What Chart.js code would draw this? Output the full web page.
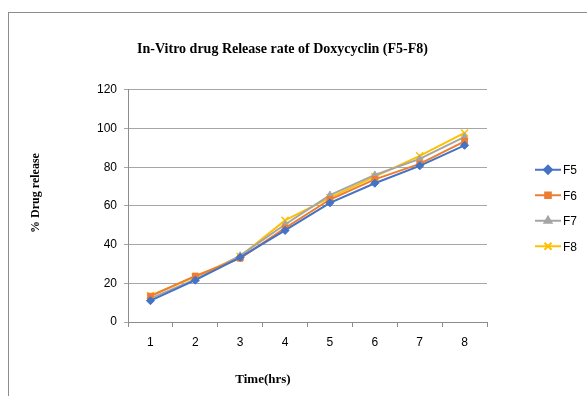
<!DOCTYPE html>
<html>
<head>
<meta charset="utf-8">
<script src="https://cdn.jsdelivr.net/npm/chart.js@4"></script>
<style>
  html, body { margin: 0; padding: 0; background: #fff; overflow: hidden; }
  #wrap { position: relative; width: 587px; height: 396px; }
  #frame { position: absolute; left: 8px; top: 12px; width: 620px; height: 420px; border: 1px solid #8c8c8c; box-sizing: border-box; }
  canvas { position: absolute; left: 0; top: 0; }
</style>
</head>
<body>
<div id="wrap">
  <div id="frame"></div>
  <canvas id="releaseChart" width="587" height="396"></canvas>
</div>
<script>
// --- 데이터 ---
const timeLabels = ['1', '2', '3', '4', '5', '6', '7', '8'];
const seriesNames = ['F5', 'F6', 'F7', 'F8'];
const f5Values = [11, 21.6, 33.4, 47.3, 61.6, 71.7, 80.7, 91.3];
const f6Values = [13.4, 23.8, 32.9, 48.5, 63.3, 73.7, 81.7, 93.4];
const f7Values = [12.2, 22, 34.3, 50.4, 65.6, 76, 84.3, 95.7];
const f8Values = [13.7, 23.3, 33.9, 52.5, 64.3, 75.1, 85.9, 97.7];
const yTicks = [0, 20, 40, 60, 80, 100, 120];
const xAxisTitle = 'Time(hrs)';
const yAxisTitle = '% Drug release';

const seriesValues = [f5Values, f6Values, f7Values, f8Values];
const seriesColors = ['#4472C4', '#ED7D31', '#A5A5A5', '#FFC000'];
const seriesMarkers = ['rectRot', 'rect', 'triangle', 'crossRot'];
const seriesRadius = [4, 4, 4, 5];

const serifBold = 'bold 13px "Liberation Serif", "Times New Roman", serif';

// 범례 + 축 제목 (엑셀 배치에 맞춤)
const sideLegend = {
    id: 'sideLegend',
    afterLayout(chart) {
        // 제목을 엑셀처럼 약간 오른쪽으로
        chart.titleBlock.left += 18;
    },
    afterDraw(chart) {
        const ctx = chart.ctx;
        chart.data.datasets.forEach((ds, i) => {
            const y = 208 + (i - 1.5) * 25.5;
            ctx.save();
            ctx.strokeStyle = ds.borderColor;
            ctx.lineWidth = 2;
            ctx.beginPath();
            ctx.moveTo(535, y);
            ctx.lineTo(561, y);
            ctx.stroke();
            ctx.fillStyle = ds.borderColor;
            Chart.helpers.drawPoint(ctx, {
                pointStyle: ds.pointStyle,
                radius: ds.pointRadius,
                borderWidth: ds.pointStyle === 'crossRot' ? 1.5 : 1,
                rotation: 0
            }, 548, y);
            ctx.restore();
            ctx.save();
            ctx.fillStyle = '#000';
            ctx.font = '12px "Liberation Sans", Arial, sans-serif';
            ctx.textBaseline = 'middle';
            ctx.fillText(seriesNames[i], 563, y + 1);
            ctx.restore();
        });

        // 축 제목
        ctx.save();
        ctx.fillStyle = '#000';
        ctx.font = serifBold;
        ctx.textAlign = 'center';
        ctx.textBaseline = 'middle';
        ctx.fillText(xAxisTitle, 263, 380);
        ctx.translate(36, 193);
        ctx.rotate(-Math.PI / 2);
        ctx.font = 'bold 12px "Liberation Serif", "Times New Roman", serif';
        ctx.fillText(yAxisTitle, 0, 0);
        ctx.restore();
    }
};

const ctx = document.getElementById('releaseChart').getContext('2d');
new Chart(ctx, {
    type: 'line',
    data: {
        labels: timeLabels,
        datasets: seriesNames.map((name, i) => ({
            label: name,
            data: seriesValues[i],
            borderColor: seriesColors[i],
            backgroundColor: seriesColors[i],
            pointBackgroundColor: seriesColors[i],
            pointBorderColor: seriesColors[i],
            pointStyle: seriesMarkers[i],
            pointRadius: seriesRadius[i],
            pointBorderWidth: i === 3 ? 1.5 : 1,
            borderWidth: 2,
            tension: 0,
            fill: false
        }))
    },
    options: {
        responsive: false,
        animation: false,
        layout: { padding: { left: 60, right: 100, top: 0, bottom: 0 } },
        plugins: {
            legend: { display: false },
            tooltip: { enabled: false },
            title: {
                display: true,
                text: 'In-Vitro drug Release rate of Doxycyclin (F5-F8)',
                color: '#000',
                font: { family: '"Liberation Serif", "Times New Roman", serif', size: 14, weight: 'bold' },
                padding: { top: 41, bottom: 32 }
            }
        },
        scales: {
            x: {
                offset: true,
                afterFit(scale) { scale.height = 74; },
                grid: {
                    offset: true,
                    drawOnChartArea: false,
                    drawTicks: true,
                    tickLength: 5,
                    color: '#8c8c8c'
                },
                border: { display: true, color: '#8c8c8c' },
                ticks: {
                    color: '#000',
                    padding: 8,
                    font: { family: '"Liberation Sans", Arial, sans-serif', size: 12 }
                }
            },
            y: {
                min: 0,
                max: 120,
                afterFit(scale) { scale.width = 68; },
                afterBuildTicks(scale) {
                    scale.ticks = yTicks.map(v => ({ value: v }));
                },
                grid: {
                    color: '#a6a6a6',
                    drawTicks: true,
                    tickLength: 4,
                    lineWidth: 1
                },
                border: { display: true, color: '#8c8c8c' },
                ticks: {
                    color: '#000',
                    padding: 7,
                    font: { family: '"Liberation Sans", Arial, sans-serif', size: 12 }
                }
            }
        }
    },
    plugins: [sideLegend]
});
</script>
</body>
</html>
